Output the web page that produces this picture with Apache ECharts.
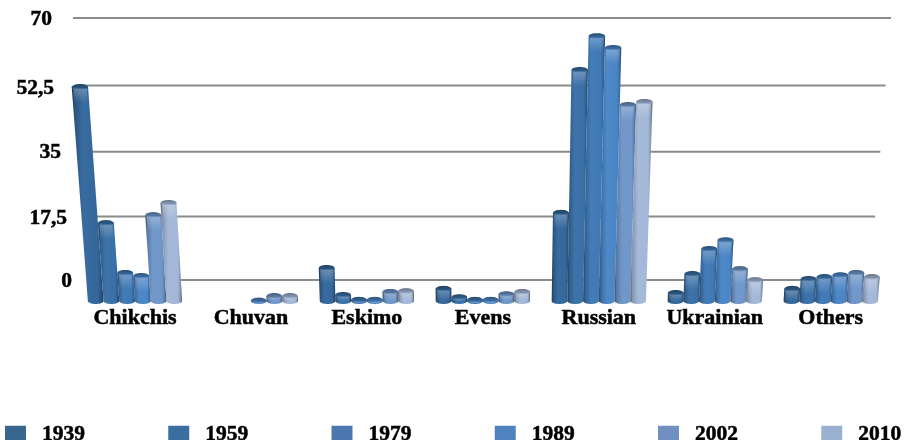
<!DOCTYPE html>
<html><head><meta charset="utf-8">
<style>html,body{margin:0;padding:0;background:#fff}#c{width:904px;height:440px}</style>
<script src="https://cdn.jsdelivr.net/npm/echarts@6/dist/echarts.min.js"></script>
</head><body><div id="c"></div>
<script>
const categories = ['Chikchis','Chuvan','Eskimo','Evens','Russian','Ukrainian','Others'];
const years = ['1939','1959','1979','1989','2002','2010'];
const tickValues = [0,17.5,35,52.5,70];
const v1939 = [56.3,null,8.7,3.2,23.2,2.1,3.2];
const v1959 = [20.5,null,1.6,1.0,60.8,7.1,5.8];
const v1979 = [7.4,null,0.3,0.3,69.7,13.7,6.3];
const v1989 = [6.6,0.1,0.3,0.3,66.6,16.0,6.8];
const v2002 = [22.6,1.3,2.4,1.8,51.6,8.4,7.4];
const v2010 = [25.8,1.3,2.6,2.4,52.4,5.5,6.3];
const seriesValues = [v1939,v1959,v1979,v1989,v2002,v2010];
const colors = ['#38668f','#3a6ea0','#4a77ad','#4f82bf','#7090c0','#9ab0d0'];
const barColors = ['#34689c','#3a70a8','#3f79b6','#4a86c6','#6f96ca','#a3b8d8'];

function shade(hex,f){
  const n=parseInt(hex.slice(1),16),r=n>>16,g=(n>>8)&255,b=n&255;
  const m=c=>Math.round(f<0?c*(1+f):c+(255-c)*f);
  return `rgb(${m(r)},${m(g)},${m(b)})`;
}
const VX=476, VH=5150, RY=3, SERIF='"Liberation Serif","Times New Roman",serif';
const TEXT={fontFamily:SERIF,fontWeight:'bold',color:'#000',textBorderColor:'#000',textBorderWidth:0.5};

function cylinder(idx,color){
  return function(params,api){
    const v=api.value(1);
    if(v==null||isNaN(v))return null;
    const band=api.size([1,0])[0];
    const w=band*0.1355;
    const base=api.coord([api.value(0),0]);
    const top=api.coord([api.value(0),v]);
    const bx=base[0]+(idx-2.5)*w, by=base[1];
    const h=by-top[1];
    const tx=bx+(bx-VX)*h/VH, ty=top[1];
    const rb=w/2, rt=rb*(1+h/VH);
    const body=[[tx-rt,ty]];
    for(let i=0;i<=20;i++){const a=Math.PI-Math.PI*i/20;body.push([bx+rb*Math.cos(a),by+RY*Math.sin(a)]);}
    body.push([tx+rt,ty]);
    const cap=[];
    for(let i=0;i<32;i++){const a=2*Math.PI*i/32;cap.push([tx+rt*Math.cos(a),ty+RY*Math.sin(a)]);}
    const children=[
      {type:'polygon',shape:{points:body},style:{fill:new echarts.graphic.LinearGradient(0,0,1,0,[
        {offset:0,color:shade(color,-0.5)},{offset:0.1,color:shade(color,-0.18)},
        {offset:0.35,color:shade(color,0.02)},{offset:0.8,color:color},
        {offset:0.93,color:shade(color,-0.2)},{offset:1,color:shade(color,-0.5)}])}}
    ];
    const gl=Math.min(h,16), f=gl/Math.max(h,1);
    if(h>2){
      children.push({type:'polygon',shape:{points:[[tx-rt+1.5,ty],[tx+rt-1.5,ty],
        [tx+rt+(bx+rb-tx-rt)*f-1.5,ty+gl],[tx-rt+(bx-rb-tx+rt)*f+1.5,ty+gl]]},
        style:{fill:new echarts.graphic.LinearGradient(0,0,0,1,[
          {offset:0,color:'rgba(255,255,255,0.28)'},{offset:1,color:'rgba(255,255,255,0)'}])}});
    }
    children.push({type:'polygon',shape:{points:cap},style:{fill:new echarts.graphic.LinearGradient(0,0,0,1,[
        {offset:0,color:shade(color,-0.35)},{offset:0.6,color:shade(color,-0.2)},
        {offset:1,color:shade(color,0.3)}])}});
    return {type:'group',children};
  };
}
function wallLine(params,api){
  const cs=params.coordSys, v=api.value(0);
  const t=v/70, y=api.coord([0,v])[1]+11*t*(1-t);
  const inset=(y-cs.y)*0.08;
  return {type:'line',shape:{x1:cs.x+inset,y1:y,x2:cs.x+cs.width-inset,y2:y},
    style:{stroke:'#878c8c',lineWidth:2}};
}
const labelPad={0:[2,1],17.5:[7,6],35:[7,12],52.5:[9,19],70:[2,21]};
const rich={};
tickValues.forEach((v,i)=>{rich['t'+i]=Object.assign({},TEXT,{fontSize:21.5,
  padding:[labelPad[v][0],labelPad[v][1],0,0]});});

const series=[{type:'custom',name:'wall',xAxisIndex:1,yAxisIndex:1,z:1,clip:false,silent:true,
  data:tickValues.map(v=>[v]),encode:{y:0},renderItem:wallLine}];
years.forEach((y,i)=>{series.push({type:'custom',name:y,xAxisIndex:0,yAxisIndex:0,z:3+i,clip:false,
  itemStyle:{color:colors[i]},encode:{x:0,y:1},
  data:categories.map((c,j)=>[j,seriesValues[i][j]]),renderItem:cylinder(i,barColors[i])});});

const chart=echarts.init(document.getElementById('c'),null,{renderer:'canvas'});
chart.setOption({
  animation:false,backgroundColor:'#fff',
  legend:{data:years,left:5,top:423,icon:'rect',itemWidth:21,itemHeight:17,itemGap:83,padding:0,selectedMode:false,
    textStyle:Object.assign({},TEXT,{fontSize:21.5,padding:[0,0,0,11]})},
  grid:[{left:77,right:15.3,top:35,bottom:139},{left:73,right:13,top:18,bottom:160}],
  xAxis:[
    {type:'category',gridIndex:0,data:categories,axisLine:{show:false},axisTick:{show:false},
     axisLabel:Object.assign({},TEXT,{margin:6,interval:0,fontSize:22})},
    {type:'value',gridIndex:1,show:false}
  ],
  yAxis:[
    {type:'value',gridIndex:0,min:0,max:70,show:false},
    {type:'value',gridIndex:1,min:0,max:70,interval:17.5,axisLine:{show:false},axisTick:{show:false},splitLine:{show:false},
     axisLabel:{margin:0,rich:rich,formatter:v=>`{t${tickValues.indexOf(v)}|${String(v).replace('.',',')}}`}}
  ],
  series
});
</script></body></html>
